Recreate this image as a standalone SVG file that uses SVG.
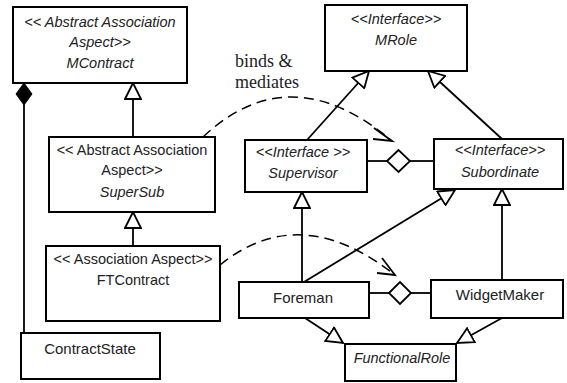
<svg xmlns="http://www.w3.org/2000/svg" width="567" height="383" viewBox="0 0 567 383">
<style>
.box{fill:#fff;stroke:#000;stroke-width:2}
.t{font-family:"Liberation Sans",Arial,sans-serif;font-size:14.5px;fill:#222;text-anchor:middle}
.i{font-style:italic}
.ln{fill:none;stroke:#000;stroke-width:1.8}
.dash{fill:none;stroke:#000;stroke-width:1.5;stroke-dasharray:10 6}
.lbl{font-family:"Liberation Serif","Times New Roman",serif;font-size:18px;fill:#222}
</style>
<defs>
<marker id="gen" markerUnits="userSpaceOnUse" markerWidth="18" markerHeight="18" viewBox="-1 -1 18 18" refX="16" refY="8" orient="auto">
<path d="M0,0 L16,8 L0,16 Z" fill="#fff" stroke="#000" stroke-width="1.8"/>
</marker>
</defs>
<g id="connectors">
<line class="ln" x1="133" y1="137" x2="133" y2="83" marker-end="url(#gen)"/>
<line class="ln" x1="133" y1="246" x2="133" y2="212" marker-end="url(#gen)"/>
<line class="ln" x1="24" y1="103" x2="24" y2="333"/>
<polygon points="24,83 32,94 24,105 16,94" fill="#000" stroke="#000" stroke-width="1"/>
<line class="ln" x1="307" y1="140" x2="369" y2="71" marker-end="url(#gen)"/>
<line class="ln" x1="502" y1="139" x2="428" y2="71" marker-end="url(#gen)"/>
<line class="ln" x1="367" y1="161" x2="387" y2="161"/>
<line class="ln" x1="410" y1="161" x2="434" y2="161"/>
<polygon points="387,161 398.5,150 410,161 398.5,172" fill="#fff" stroke="#000" stroke-width="1.8"/>
<line class="ln" x1="302" y1="282" x2="302" y2="192" marker-end="url(#gen)"/>
<line class="ln" x1="304" y1="282" x2="455" y2="190" marker-end="url(#gen)"/>
<line class="ln" x1="502" y1="280" x2="502" y2="189" marker-end="url(#gen)"/>
<line class="ln" x1="369" y1="293" x2="389" y2="293"/>
<line class="ln" x1="411" y1="293" x2="431" y2="293"/>
<polygon points="389,293 400,282 411,293 400,304" fill="#fff" stroke="#000" stroke-width="1.8"/>
<line class="ln" x1="305" y1="318" x2="343" y2="343" marker-end="url(#gen)"/>
<line class="ln" x1="502" y1="318" x2="457" y2="343" marker-end="url(#gen)"/>
<path class="dash" d="M203 137 Q290 55 392 141"/>
<polyline class="ln" points="374,128 392,141 373,139"/>
<path class="dash" d="M220 265 Q300 200 395 275"/>
<polyline class="ln" points="382,258 395,275 377,273"/>
<text class="lbl" x="235" y="67">binds &amp;</text>
<text class="lbl" x="235" y="88">mediates</text>
</g>
<g id="MContract">
<rect class="box" x="13" y="7" width="174" height="76"/>
<text class="t i" x="100" y="27">&lt;&lt; Abstract Association</text>
<text class="t i" x="100" y="47">Aspect&gt;&gt;</text>
<text class="t i" x="100" y="68">MContract</text>
</g>
<g id="SuperSub">
<rect class="box" x="49" y="137" width="166" height="75"/>
<text class="t" x="132" y="155">&lt;&lt; Abstract Association</text>
<text class="t" x="132" y="175">Aspect&gt;&gt;</text>
<text class="t i" x="132" y="197">SuperSub</text>
</g>
<g id="FTContract">
<rect class="box" x="46" y="246" width="174" height="75"/>
<text class="t" x="133" y="264">&lt;&lt; Association Aspect&gt;&gt;</text>
<text class="t" x="133" y="285">FTContract</text>
</g>
<g id="ContractState">
<rect class="box" x="21" y="333" width="139" height="46"/>
<text class="t" x="90" y="354" style="font-size:15px">ContractState</text>
</g>
<g id="MRole">
<rect class="box" x="325" y="5" width="142" height="66"/>
<text class="t i" x="396" y="24">&lt;&lt;Interface&gt;&gt;</text>
<text class="t i" x="396" y="45">MRole</text>
</g>
<g id="Supervisor">
<rect class="box" x="245" y="140" width="122" height="52"/>
<text class="t i" x="303" y="157">&lt;&lt;Interface &gt;&gt;</text>
<text class="t i" x="303" y="178">Supervisor</text>
</g>
<g id="Subordinate">
<rect class="box" x="434" y="139" width="129" height="50"/>
<text class="t i" x="500" y="155">&lt;&lt;Interface&gt;&gt;</text>
<text class="t i" x="500" y="177">Subordinate</text>
</g>
<g id="Foreman">
<rect class="box" x="239" y="282" width="130" height="36"/>
<text class="t" x="303" y="303" style="font-size:15px">Foreman</text>
</g>
<g id="WidgetMaker">
<rect class="box" x="431" y="280" width="132" height="38"/>
<text class="t" x="500" y="300" style="font-size:15px">WidgetMaker</text>
</g>
<g id="FunctionalRole">
<rect class="box" x="345" y="344" width="111" height="37"/>
<text class="t i" x="402" y="363">FunctionalRole</text>
</g>
</svg>
